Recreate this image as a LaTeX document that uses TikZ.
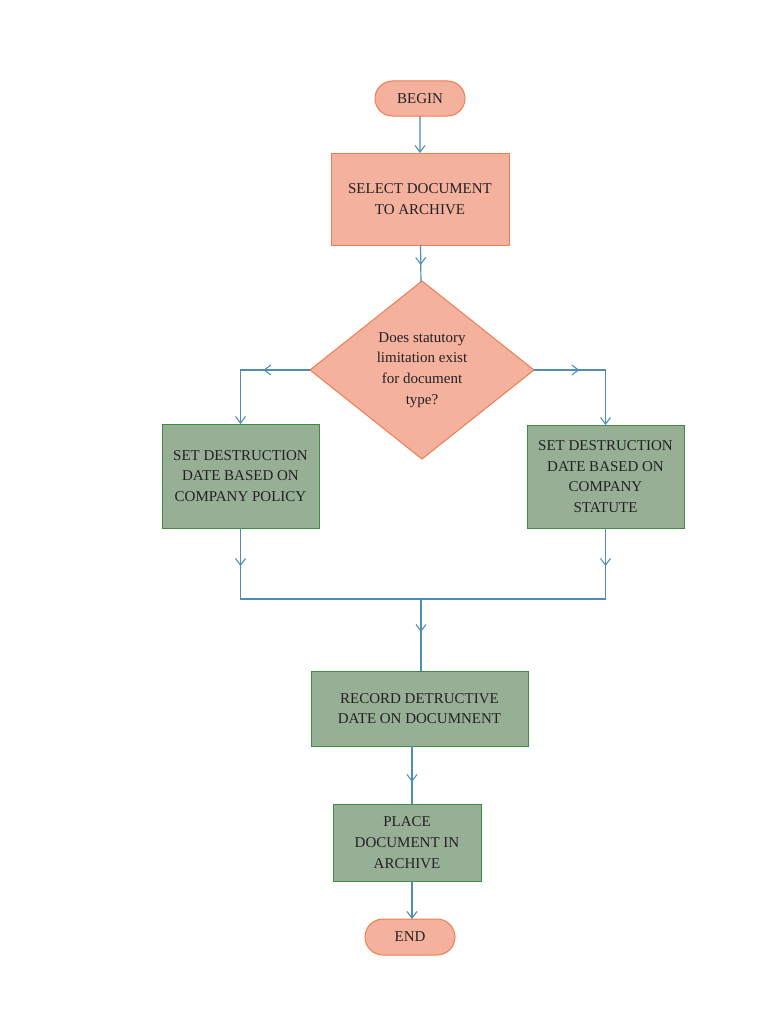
\documentclass[tikz,border=0pt]{standalone}
\usepackage{fontspec}
\setmainfont{Liberation Serif}
\usetikzlibrary{shapes.geometric,shapes.misc,arrows.meta,decorations.markings}

\definecolor{salmonfill}{HTML}{F4B19E}
\definecolor{salmonline}{HTML}{EE7D4F}
\definecolor{sagefill}{HTML}{97AF95}
\definecolor{sageline}{HTML}{3E8C3E}
\definecolor{flowblue}{HTML}{4F8DB8}
\definecolor{inkgray}{HTML}{222222}

\begin{document}
\begin{tikzpicture}[x=0.75pt,y=-0.75pt]
	\tikzstyle{txt}=[font=\fontsize{11.25}{15.5}\selectfont, text=inkgray, align=center, inner sep=0pt, outer sep=0pt]
	\tikzstyle{term}=[txt, rounded rectangle, draw=salmonline, fill=salmonfill, line width=0.75pt]
	\tikzstyle{orangebox}=[txt, rectangle, draw=salmonline, fill=salmonfill, line width=0.75pt]
	\tikzstyle{greenbox}=[txt, rectangle, draw=sageline, fill=sagefill, line width=0.75pt]
	\tikzstyle{choice}=[txt, diamond, draw=salmonline, fill=salmonfill, line width=0.75pt]
	\tikzstyle{connect}=[draw=flowblue, line width=0.9pt, >={Straight Barb[length=5pt,width=7.5pt,line width=0.8pt]}]
	\tikzset{arrowat/.style={postaction={decorate,decoration={markings,mark=at position #1 with {\arrow{>}}}}}}

	\fill[white] (0,0) rectangle (768,1024);
	\useasboundingbox (0,0) rectangle (768,1024);

	\node[term, minimum width=67.5pt, minimum height=26.25pt]    (begin)  at (420,98.5)  {BEGIN};
	\node[orangebox, minimum width=133.5pt, minimum height=69pt] (select) at (420,199)   {SELECT DOCUMENT\\TO ARCHIVE};
	\node[choice, minimum width=168pt, minimum height=133.5pt]   (dia)    at (422,370)   {Does statutory\\limitation exist\\for document\\type?};

	\node[greenbox, minimum width=117.75pt, minimum height=78pt]    (policy)  at (240.5,476) {SET DESTRUCTION\\DATE BASED ON\\COMPANY POLICY};
	\node[greenbox, minimum width=117.75pt, minimum height=77.25pt] (statute) at (605.5,476.5) {SET DESTRUCTION\\DATE BASED ON\\COMPANY\\STATUTE};

	\coordinate (merge) at (421,599);

	\node[greenbox, minimum width=162.75pt, minimum height=56.25pt] (record) at (419.5,708.5) {RECORD DETRUCTIVE\\DATE ON DOCUMNENT};
	\node[greenbox, minimum width=111pt, minimum height=57.75pt]    (place)  at (407,842.5)   {PLACE\\DOCUMENT IN\\ARCHIVE};
	\node[term, minimum width=67.5pt, minimum height=27pt]          (finish) at (410,937)     {END};

	\path[connect]
	(begin)  edge [->] (select)
	(select) edge [arrowat=15pt] (dia)
	;
	\draw[connect, arrowat=35pt, ->] (dia.west) -| (policy.north);
	\draw[connect, arrowat=34pt, ->] (dia.east) -| (statute.north);
	\draw[connect, arrowat=28.5pt] (policy.south) |- (merge);
	\draw[connect, arrowat=28.5pt] (statute.south) |- (merge);
	\draw[connect, arrowat=24.75pt] (merge) -- (record.north -| merge);
	\draw[connect, arrowat=27pt] ([xshift=-5.625pt]record.south) -- ([xshift=3.75pt]place.north);
	\draw[connect, ->] ([xshift=3.75pt]place.south) -- ([xshift=1.5pt]finish.north);

\end{tikzpicture}
\end{document}
